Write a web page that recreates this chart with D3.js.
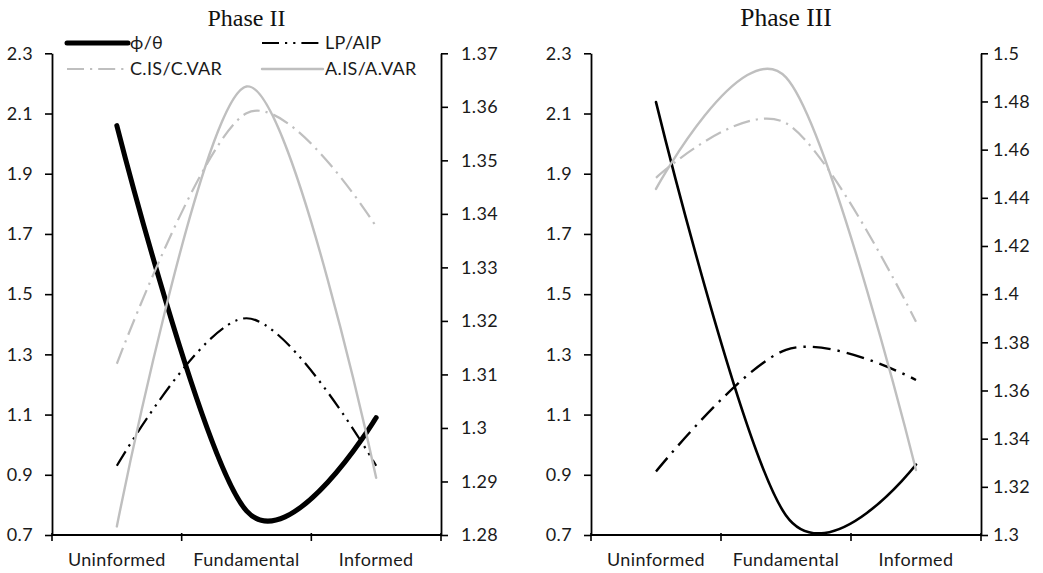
<!DOCTYPE html>
<html><head><meta charset="utf-8">
<script src="https://cdn.jsdelivr.net/npm/d3@7"></script>
<style>body{margin:0;background:#fff}svg{display:block}</style>
</head><body>
<svg id="c" width="1043" height="573"></svg>
<script>
// ---- data ----
const categories = ["Uninformed", "Fundamental", "Informed"];
const leftTicks = [2.3, 2.1, 1.9, 1.7, 1.5, 1.3, 1.1, 0.9, 0.7];
const rightTicksII = [1.37, 1.36, 1.35, 1.34, 1.33, 1.32, 1.31, 1.3, 1.29, 1.28];
const rightTicksIII = [1.5, 1.48, 1.46, 1.44, 1.42, 1.4, 1.38, 1.36, 1.34, 1.32, 1.3];
const seriesNames = ["\u03D5/\u03B8", "LP/AIP", "C.IS/C.VAR", "A.IS/A.VAR"];

const phiII  = [2.06, 0.78, 1.09];
const lpII   = [0.93, 1.42, 0.93];
const cisII  = [1.312, 1.3588, 1.3376];
const aisII  = [1.2816, 1.3638, 1.2907];

const phiIII = [2.138, 0.765, 0.934];
const lpIII  = [0.911, 1.315, 1.215];
const cisIII = [1.4483, 1.471, 1.3885];
const aisIII = [1.4437, 1.490, 1.327];

// ---- layout / styles ----
const W = 1043, H = 573;
const yTop = 53.3, yBot = 535;
const gray = "#bfbfbf";
const font = "Lato, 'Open Sans', sans-serif";
const fontSize = "18px";
const spacing = "0.35px";

const panels = [
  { title: "Phase II", titleSize: 24, x0: 52, x1: 441, rDomain: [1.28, 1.37], rTicks: rightTicksII,
    lPad: 12, rPad: 13, legend: true,
    series: [
      { vals: phiII, axis: "L", color: "#000", width: 5, dash: null, name: 0 },
      { vals: lpII, axis: "L", color: "#000", width: 2.2, dash: "17,6,2.2,6,2.2,6", name: 1 },
      { vals: cisII, axis: "R", color: gray, width: 2.2, dash: "17,6,2.2,6", name: 2 },
      { vals: aisII, axis: "R", color: gray, width: 2.4, dash: null, name: 3 }
    ]},
  { title: "Phase III", titleSize: 25.5, x0: 591, x1: 981, rDomain: [1.3, 1.5], rTicks: rightTicksIII,
    lPad: 12, rPad: 5, legend: false,
    series: [
      { vals: phiIII, axis: "L", color: "#000", width: 2.6, dash: null, name: 0 },
      { vals: lpIII, axis: "L", color: "#000", width: 2.4, dash: "18,7,2.4,7", name: 1 },
      { vals: cisIII, axis: "R", color: gray, width: 2.2, dash: "17,6,2.2,6", name: 2 },
      { vals: aisIII, axis: "R", color: gray, width: 2.4, dash: null, name: 3 }
    ]}
];

const svg = d3.select("#c");

function styleText(sel) {
  sel.attr("fill", "#1a1a1a").style("font-family", font).style("font-size", fontSize)
    .style("letter-spacing", spacing);
}
function styleAxis(g) {
  g.selectAll("path.domain").attr("stroke", "#000").attr("stroke-width", 1.8);
  g.selectAll(".tick line").attr("stroke", "#000").attr("stroke-width", 1.6);
  styleText(g.selectAll(".tick text"));
}

panels.forEach(p => {
  const x = d3.scaleBand().domain(categories).range([p.x0, p.x1]).padding(0);
  const bw = x.bandwidth();
  const yL = d3.scaleLinear().domain([0.7, 2.3]).range([yBot, yTop]);
  const yR = d3.scaleLinear().domain(p.rDomain).range([yBot, yTop]);

  // title
  svg.append("text").attr("x", (p.x0 + p.x1) / 2 - 0).attr("y", 26)
    .attr("text-anchor", "middle").style("font-family", "'Liberation Serif', 'Times New Roman', serif")
    .style("font-size", p.titleSize + "px").attr("fill", "#111").text(p.title);

  // left axis
  const gl = svg.append("g").attr("transform", `translate(${p.x0},0)`)
    .call(d3.axisLeft(yL).tickValues(leftTicks).tickSize(7).tickSizeOuter(0).tickPadding(p.lPad).tickFormat(d3.format("")));
  styleAxis(gl);
  // right axis
  const gr = svg.append("g").attr("transform", `translate(${p.x1},0)`)
    .call(d3.axisRight(yR).tickValues(p.rTicks).tickSize(7).tickSizeOuter(0).tickPadding(p.rPad).tickFormat(d3.format("")));
  styleAxis(gr);

  // x axis (ticks between categories)
  const edges = categories.map(c => x(c)).concat([x(categories[categories.length - 1]) + bw]);
  const gx = svg.append("g");
  gx.append("line").attr("x1", p.x0).attr("x2", p.x1).attr("y1", yBot).attr("y2", yBot)
    .attr("stroke", "#000").attr("stroke-width", 1.8);
  gx.selectAll("line.t").data(edges).join("line").attr("class", "t")
    .attr("x1", d => d).attr("x2", d => d).attr("y1", yBot - 2).attr("y2", yBot + 6)
    .attr("stroke", "#000").attr("stroke-width", 1.6);
  styleText(gx.selectAll("text").data(categories).join("text")
    .attr("x", d => x(d) + bw / 2).attr("y", 566).attr("text-anchor", "middle").text(d => d));

  // series
  p.series.forEach(s => {
    const y = s.axis === "L" ? yL : yR;
    const line = d3.line().x(d => x(d.c) + bw / 2).y(d => y(d.v)).curve(d3.curveCardinal.tension(0));
    const data = categories.map((c, i) => ({ c, v: s.vals[i] }));
    svg.append("path").datum(data).attr("d", line).attr("fill", "none")
      .attr("stroke", s.color).attr("stroke-width", s.width)
      .attr("stroke-dasharray", s.dash).attr("stroke-linejoin", "round")
      .attr("stroke-linecap", s.dash ? "butt" : "round");
  });

  // legend
  if (p.legend) {
    const pos = [[67, 43], [262, 43], [67, 69], [262, 69]];
    p.series.forEach((s, i) => {
      const [lx, ly] = pos[i];
      svg.append("line").attr("x1", lx).attr("x2", lx + 61).attr("y1", ly).attr("y2", ly)
        .attr("stroke", s.color).attr("stroke-width", s.width).attr("stroke-dasharray", s.dash)
        .attr("stroke-linecap", s.dash ? "butt" : "round");
      styleText(svg.append("text").attr("x", lx + 63).attr("y", ly).attr("dy", "0.35em")
        .text(seriesNames[s.name]));
    });
  }
});
</script>
</body></html>
